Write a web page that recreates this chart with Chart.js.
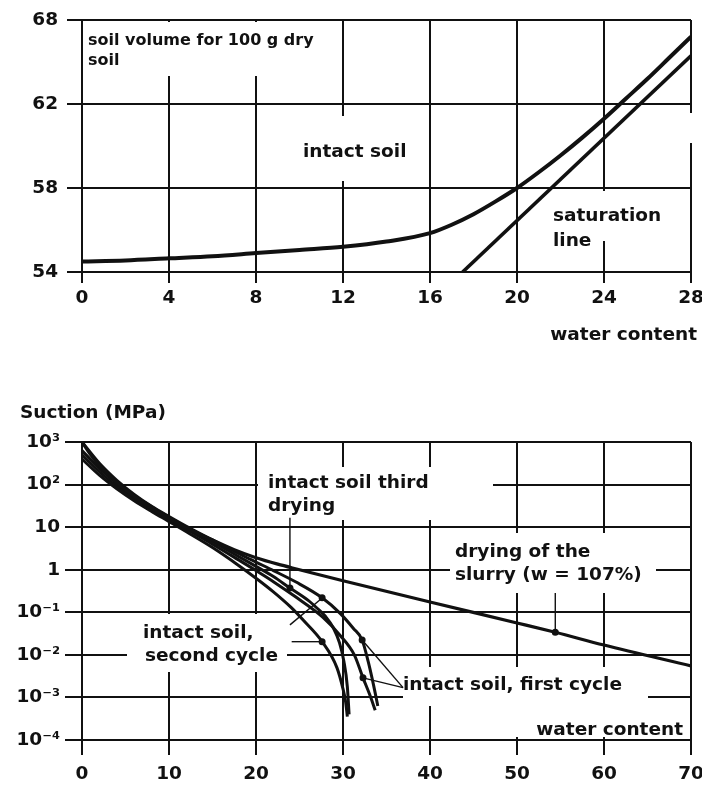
<!DOCTYPE html>
<html><head><meta charset="utf-8">
<script src="https://cdn.jsdelivr.net/npm/chart.js@4.4.1/dist/chart.umd.min.js"></script>
<style>
html,body{margin:0;padding:0;background:#fff;}
#wrap{position:relative;width:702px;height:791px;overflow:hidden;}
#c1{position:absolute;left:0;top:0;}
#c2{position:absolute;left:0;top:350px;}
</style></head><body>
<div id="wrap"><canvas id="c1" width="702" height="350"></canvas><canvas id="c2" width="702" height="441"></canvas></div>
<script>
// ---------- TOP CHART DATA: soil volume (cm3 per 100 g dry soil) vs water content ----------
const volWater      = [0, 2, 4, 6, 8, 10, 12, 14, 16, 17, 18, 19, 20, 21, 22, 23, 24, 25, 26, 27, 28];
const intactVolume  = [54.5, 54.55, 54.65, 54.75, 54.9, 55.05, 55.2, 55.45, 55.85, 56.25, 56.75, 57.35, 58.0, 58.75, 59.55, 60.4, 61.3, 62.25, 63.2, 64.2, 65.2];
const satWater      = [17.5, 28];
const satVolume     = [54, 64.3];
const volTicks      = [54, 58, 62, 66];
const volTickLabels = ['54', '58', '62', '68'];
const waterTicksTop = [0, 4, 8, 12, 16, 20, 24, 28];

// ---------- BOTTOM CHART DATA: suction (MPa, log) vs water content ----------
const slurryW   = [0, 1, 2, 4, 6, 8, 10, 12, 15, 17.5, 20, 22.5, 25, 30, 40, 50, 54.4, 60, 70];
const slurryS   = [1000, 501, 282, 112, 52.5, 27.5, 15.8, 9.55, 5.01, 2.95, 1.91, 1.35, 1.0, 0.55, 0.174, 0.0562, 0.0339, 0.017, 0.0055];
const thirdW    = [0, 2, 4, 6, 8, 10, 12, 15, 18, 20, 22, 23.9, 26, 27, 28, 28.9, 29.6, 30.1, 30.5, 30.7];
const thirdS    = [631, 240, 107, 55, 30.2, 17.0, 10.0, 4.57, 2.04, 1.2, 0.692, 0.372, 0.19, 0.126, 0.0794, 0.0427, 0.0191, 0.00708, 0.00178, 0.000398];
const secondW   = [0, 2, 4, 6, 8, 10, 12, 15, 18, 20, 22, 24, 25.5, 27.6, 29.3, 30, 30.3, 30.5];
const secondS   = [398, 166, 79.4, 41.7, 23.4, 13.5, 7.76, 3.31, 1.26, 0.631, 0.302, 0.132, 0.0631, 0.0204, 0.00501, 0.00158, 0.000794, 0.000355];
const firstAW   = [0, 2, 4, 6, 8, 10, 12, 15, 18, 20, 22, 24.6, 27.6, 29.7, 31.2, 32.2, 32.9, 33.5, 34.0];
const firstAS   = [1000, 316, 126, 58.9, 30.9, 17.8, 10.5, 5.01, 2.4, 1.51, 0.955, 0.513, 0.219, 0.0933, 0.0417, 0.0224, 0.00692, 0.002, 0.00063];
const firstBW   = [0, 2, 4, 6, 8, 10, 12, 15, 18, 20, 22, 24.5, 27.7, 29.7, 31.3, 32.3, 33.1, 33.7];
const firstBS   = [501, 200, 91.2, 46.8, 26.3, 15.1, 8.91, 3.98, 1.70, 0.955, 0.525, 0.234, 0.0759, 0.0282, 0.01, 0.00288, 0.00112, 0.0005];
const dotW      = [23.9, 27.6, 27.6, 32.2, 32.3, 54.4];
const dotS      = [0.372, 0.219, 0.0204, 0.0224, 0.00288, 0.0339];
// label pointer lines (data coordinates)
const ptrThirdW   = [23.9, 23.9];     const ptrThirdS   = [16.6, 0.372];
const ptrSecond1W = [23.9, 27.4];     const ptrSecond1S = [0.0506, 0.2];
const ptrSecond2W = [24.1, 27.4];     const ptrSecond2S = [0.0204, 0.0204];
const ptrFirst1W  = [36.9, 32.2];     const ptrFirst1S  = [0.0017, 0.0224];
const ptrFirst2W  = [36.9, 32.3];     const ptrFirst2S  = [0.0017, 0.00288];
const ptrSlurryW  = [54.4, 54.4];     const ptrSlurryS  = [0.285, 0.0339];
const suctionTicks      = [1e-4, 1e-3, 1e-2, 1e-1, 1, 10, 100, 1000];
const suctionTickLabels = ['10⁻⁴', '10⁻³', '10⁻²', '10⁻¹', '1', '10', '10²', '10³'];
const waterTicksBottom  = [0, 10, 20, 30, 40, 50, 60, 70];

// ---------- helpers ----------
const FAM = '"DejaVu Sans", "Liberation Sans", sans-serif';
const INK = '#111';
const pts = (xs, ys) => xs.map((x, i) => ({x: x, y: ys[i]}));
const curve = (xs, ys, w) => ({data: pts(xs, ys), showLine: true, borderColor: INK, borderWidth: w, pointRadius: 0, cubicInterpolationMode: 'monotone', fill: false});
const pointer = (xs, ys) => ({data: pts(xs, ys), showLine: true, borderColor: INK, borderWidth: 1.4, pointRadius: 0, tension: 0, fill: false});

function annot(id, offY, boxes, texts) {
  return {
    id: id,
    beforeDatasetsDraw(chart) {
      const c = chart.ctx; c.save(); c.fillStyle = '#fff';
      boxes.forEach(b => c.fillRect(b[0], b[1] - offY, b[2] - b[0], b[3] - b[1]));
      c.restore();
    },
    afterDraw(chart) {
      const c = chart.ctx; c.save(); c.fillStyle = INK; c.textBaseline = 'alphabetic';
      texts.forEach(t => { c.font = t.f; c.textAlign = t.a || 'left'; c.fillText(t.t, t.x, t.y - offY); });
      c.restore();
    }
  };
}
const big = `bold 18.5px ${FAM}`;
const tickFont = {family: FAM, size: 18.5, weight: 'bold'};
const gridCfg = (tl) => ({color: INK, lineWidth: 2, tickLength: tl, drawTicks: true});

// ---------- TOP CHART ----------
new Chart(document.getElementById('c1'), {
  type: 'scatter',
  data: {datasets: [curve(volWater, intactVolume, 4), curve(satWater, satVolume, 3.6)]},
  options: {
    responsive: false, animation: false, devicePixelRatio: 1,
    layout: {padding: {left: 0, right: 11, top: 20, bottom: 0}},
    plugins: {legend: {display: false}, tooltip: {enabled: false}},
    scales: {
      x: {
        type: 'linear', min: 0, max: 28,
        afterBuildTicks: s => { s.ticks = waterTicksTop.map(v => ({value: v})); },
        ticks: {font: tickFont, color: INK, padding: 4, maxRotation: 0, callback: v => String(v)},
        grid: gridCfg(11), border: {display: true, color: INK, width: 2},
        afterFit: s => { s.height = 78; s.paddingLeft = 0; s.paddingRight = 0; }
      },
      y: {
        type: 'linear', min: 54, max: 66,
        afterBuildTicks: s => { s.ticks = volTicks.map(v => ({value: v})); },
        ticks: {font: tickFont, color: INK, padding: 9, callback: (v, i) => volTickLabels[i]},
        grid: gridCfg(15), border: {display: true, color: INK, width: 2},
        afterFit: s => { s.width = 82; s.paddingTop = 0; s.paddingBottom = 0; }
      }
    }
  },
  plugins: [annot('a1', 0,
    [[84, 22, 336, 76], [298, 116, 412, 181], [550, 191, 668, 241], [686, 113, 697, 143]],
    [
      {t: 'soil volume for 100 g dry', x: 88, y: 45, f: `bold 16px ${FAM}`},
      {t: 'soil', x: 88, y: 65, f: `bold 16px ${FAM}`},
      {t: 'intact soil', x: 303, y: 157, f: big},
      {t: 'saturation', x: 553, y: 221, f: big},
      {t: 'line', x: 553, y: 246, f: big},
      {t: 'water content', x: 697, y: 340, f: big, a: 'right'}
    ])]
});

// ---------- BOTTOM CHART ----------
new Chart(document.getElementById('c2'), {
  type: 'scatter',
  data: {datasets: [
    curve(slurryW, slurryS, 3.2),
    curve(thirdW, thirdS, 3),
    curve(secondW, secondS, 3),
    curve(firstAW, firstAS, 3),
    curve(firstBW, firstBS, 3),
    pointer(ptrThirdW, ptrThirdS), pointer(ptrSecond1W, ptrSecond1S), pointer(ptrSecond2W, ptrSecond2S),
    pointer(ptrFirst1W, ptrFirst1S), pointer(ptrFirst2W, ptrFirst2S), pointer(ptrSlurryW, ptrSlurryS),
    {data: pts(dotW, dotS), showLine: false, pointRadius: 3.5, pointBackgroundColor: INK, pointBorderColor: INK, pointBorderWidth: 0}
  ]},
  options: {
    responsive: false, animation: false, devicePixelRatio: 1,
    layout: {padding: {left: 0, right: 11, top: 92, bottom: 0}},
    plugins: {legend: {display: false}, tooltip: {enabled: false}},
    scales: {
      x: {
        type: 'linear', min: 0, max: 70,
        afterBuildTicks: s => { s.ticks = waterTicksBottom.map(v => ({value: v})); },
        ticks: {font: tickFont, color: INK, padding: 8, maxRotation: 0, callback: v => String(v)},
        grid: gridCfg(15), border: {display: true, color: INK, width: 2},
        afterFit: s => { s.height = 51; s.paddingLeft = 0; s.paddingRight = 0; }
      },
      y: {
        type: 'logarithmic', min: 1e-4, max: 1e3,
        afterBuildTicks: s => { s.ticks = suctionTicks.map(v => ({value: v})); },
        ticks: {font: tickFont, color: INK, padding: 5, callback: (v, i) => suctionTickLabels[i]},
        grid: gridCfg(17), border: {display: true, color: INK, width: 2},
        afterFit: s => { s.width = 82; s.paddingTop = 0; s.paddingBottom = 0; }
      }
    }
  },
  plugins: [annot('a2', 350,
    [[258, 467, 493, 520], [450, 533, 656, 593], [127, 614, 287, 672], [403, 667, 648, 706], [505, 706, 686, 737]],
    [
      {t: 'Suction (MPa)', x: 20, y: 418, f: big},
      {t: 'intact soil third', x: 268, y: 488, f: big},
      {t: 'drying', x: 268, y: 511, f: big},
      {t: 'drying of the', x: 455, y: 557, f: big},
      {t: 'slurry (w = 107%)', x: 455, y: 580, f: big},
      {t: 'intact soil,', x: 143, y: 638, f: big},
      {t: 'second cycle', x: 145, y: 661, f: big},
      {t: 'intact soil, first cycle', x: 403, y: 690, f: big},
      {t: 'water content', x: 683, y: 735, f: big, a: 'right'}
    ])]
});
</script>
</body></html>
